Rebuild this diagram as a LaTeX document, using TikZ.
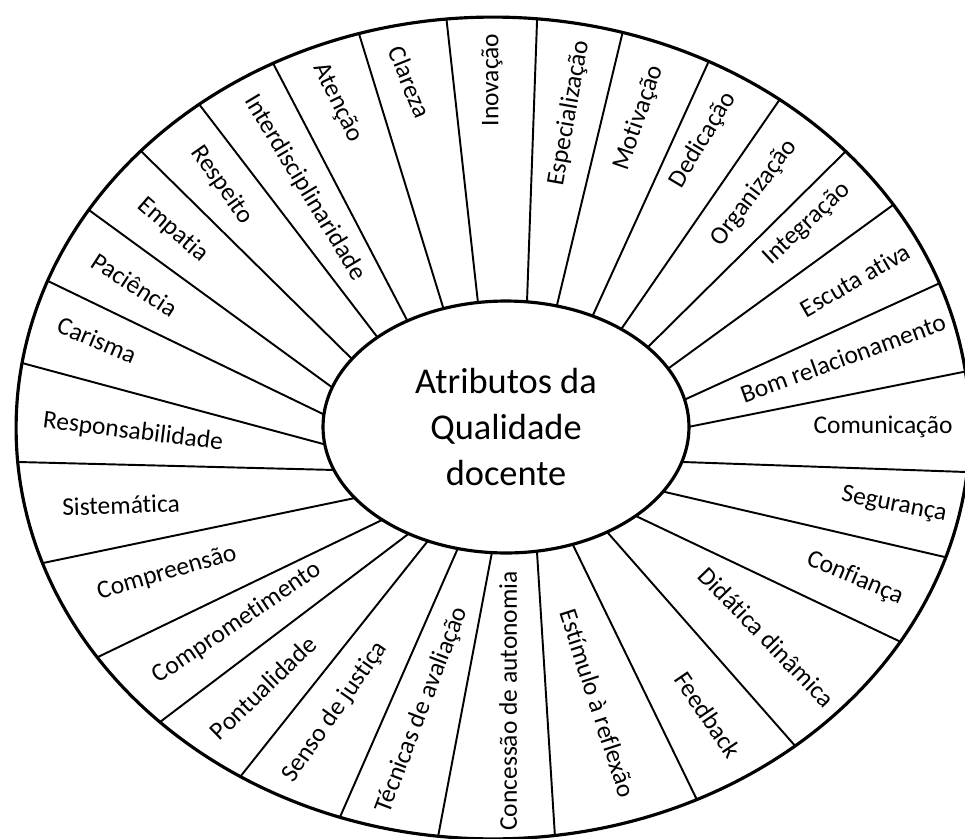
\documentclass[tikz,border=0pt]{standalone}
\usepackage{fontspec}
\setmainfont{Carlito}[Ligatures={NoCommon}]
\usetikzlibrary{shapes.geometric,calc}

\begin{document}
\begin{tikzpicture}[x=0.02cm, y=-0.02cm,
    spoke/.style={line width=1.1pt},
    rim/.style={line width=1.8pt},
    attr/.style={font=\fontsize{14.5}{17}\selectfont, inner sep=0pt}]
  \useasboundingbox (0,0) rectangle (965,839);

  % Outer ring with its dividers
  \coordinate (mid) at (493,428);
  \begin{scope}
    \clip (mid) ellipse [x radius=9.54cm, y radius=8.22cm];
    \foreach \ax/\ay/\bx/\by in {478/303/447/24, 527/302/537/22, 557/305/622/35,
        593/315/708/63, 622/328/778/102, 648/347/845/152, 669/368/893/205,
        686/399/940/283, 688/427/963/372, 683/462/966/472, 665/492/949/558,
        638/517/903/643, 608/533/797/748, 573/545/698/802, 537/552/555/837,
        492/552/438/837, 458/548/340/817, 427/542/240/777, 407/535/160/722,
        382/520/98/657, 355/498/43/563, 335/470/18/462, 327/445/22/363,
        325/415/50/282, 333/388/93/213, 353/360/145/155, 378/338/202/108,
        408/322/275/67, 443/307/360/37}
      \draw[spoke] ($(\ax,\ay)!-0.1!(\bx,\by)$) -- ($(\ax,\ay)!1.1!(\bx,\by)$);
  \end{scope}
  \draw[rim] (mid) ellipse [x radius=9.54cm, y radius=8.22cm];

  % Centre
  \node[ellipse, draw, rim, fill=white, minimum width=7.32cm, minimum height=5.04cm,
        align=center, font=\fontsize{20.7}{26}\selectfont] (core) at (506,427)
        {Atributos da\\Qualidade\\docente};

  % Attributes, clockwise from the top
  \foreach \px/\py/\ang/\txt [count=\i] in {492/80/90/Inovação,
      569/113/80/Especialização, 639/118/71/Motivação, 703/140/59/Dedicação,
      754/193/53/Organização, 807/224/43/Integração, 855/280/30/Escuta ativa,
      843/358/20/Bom relacionamento, 883/427/0/Comunicação, 894/505/-11/Segurança,
      855/578/-23/Confiança, 767/637/-46/Didática dinâmica, 708/715/-56/Feedback,
      598/703/-72/Estímulo à reflexão, 508/701/90/Concessão de autonomia,
      422/710/69/Técnicas de avaliação, 335/712/55/Senso de justiça,
      263/688/44/Pontualidade, 237/623/34/Comprometimento, 167/573/16/Compreensão,
      121/505/2/Sistemática, 133/432/-7/Responsabilidade, 97/340/-23/Carisma,
      135/285/-33/Paciência, 173/230/-41/Empatia, 222/185/-55/Respeito,
      305/188/-59/Interdisciplinaridade, 338/103/-64/Atenção, 410/82/-68/Clareza}
    \node[attr, rotate=\ang] (attr\i) at (\px,\py) {\txt};
\end{tikzpicture}
\end{document}
